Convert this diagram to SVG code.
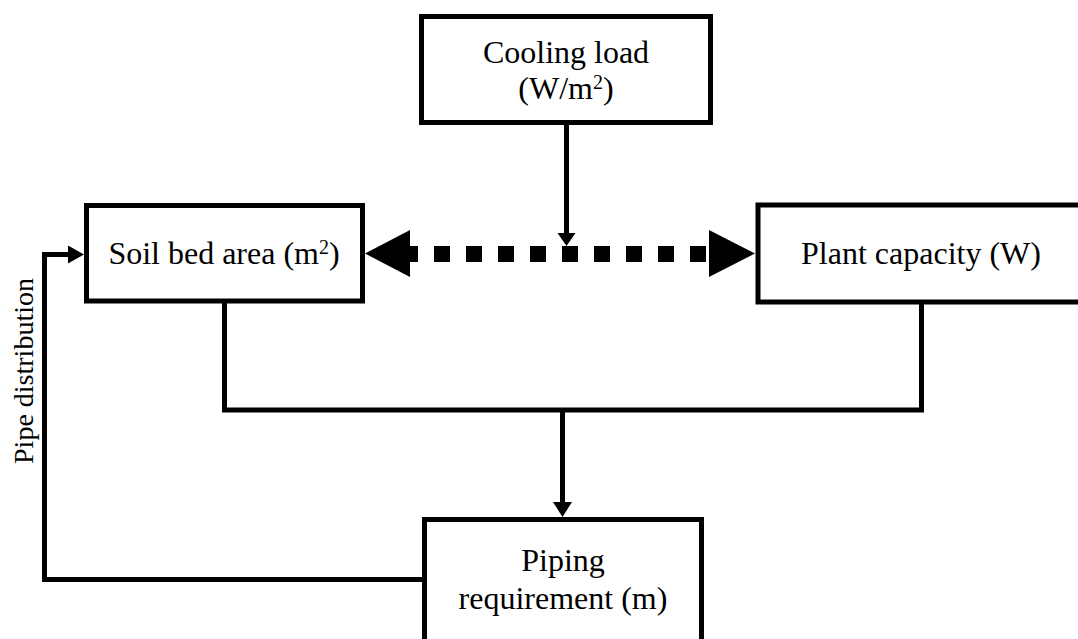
<svg xmlns="http://www.w3.org/2000/svg" width="1078" height="639" viewBox="0 0 1078 639">
<style>
.box{fill:#fff;stroke:#000;stroke-width:5}
.ln{fill:none;stroke:#000;stroke-width:5}
.hd{fill:#000;stroke:none}
text{font-family:"Liberation Serif","Times New Roman",serif;font-size:32px;fill:#000;text-anchor:middle}
</style>
<rect width="1078" height="639" fill="#fff"/>
<g id="connectors">
<line class="ln" x1="566.5" y1="122" x2="566.5" y2="234"/>
<polygon class="hd" points="557.5,233 575.5,233 566.5,246"/>
<line x1="402" y1="254" x2="709" y2="254" stroke="#000" stroke-width="16" stroke-dasharray="16 16"/>
<polygon class="hd" points="365,253.5 410,230 410,277"/>
<polygon class="hd" points="755,253.5 709,230 709,277"/>
<polyline class="ln" points="224.5,301 224.5,410 921.5,410 921.5,302"/>
<line class="ln" x1="562.5" y1="410" x2="562.5" y2="503"/>
<polygon class="hd" points="553,502 572,502 562.5,517"/>
<polyline class="ln" points="424,579.5 44.5,579.5 44.5,254.5 69,254.5"/>
<polygon class="hd" points="68,245.5 68,263.5 84,254.5"/>
</g>
<g id="cooling-load">
<rect class="box" x="421.5" y="16.5" width="289" height="106"/>
<text x="566" y="63">Cooling load</text>
<text x="566" y="99">(W/m<tspan dy="-10" font-size="20">2</tspan><tspan dy="10">)</tspan></text>
</g>
<g id="soil-bed-area">
<rect class="box" x="86.5" y="205.5" width="276" height="95.5"/>
<text x="224" y="264">Soil bed area (m<tspan dy="-10" font-size="20">2</tspan><tspan dy="10">)</tspan></text>
</g>
<g id="plant-capacity">
<rect class="box" x="758" y="205" width="330" height="97"/>
<text x="921" y="264">Plant capacity (W)</text>
</g>
<g id="piping-requirement">
<rect class="box" x="424.5" y="519.5" width="277" height="130"/>
<text x="563" y="571">Piping</text>
<text x="563" y="609">requirement (m)</text>
</g>
<g id="pipe-distribution-label">
<text x="0" y="0" transform="translate(33,371) rotate(-90)" style="font-size:28px">Pipe distribution</text>
</g>
</svg>
